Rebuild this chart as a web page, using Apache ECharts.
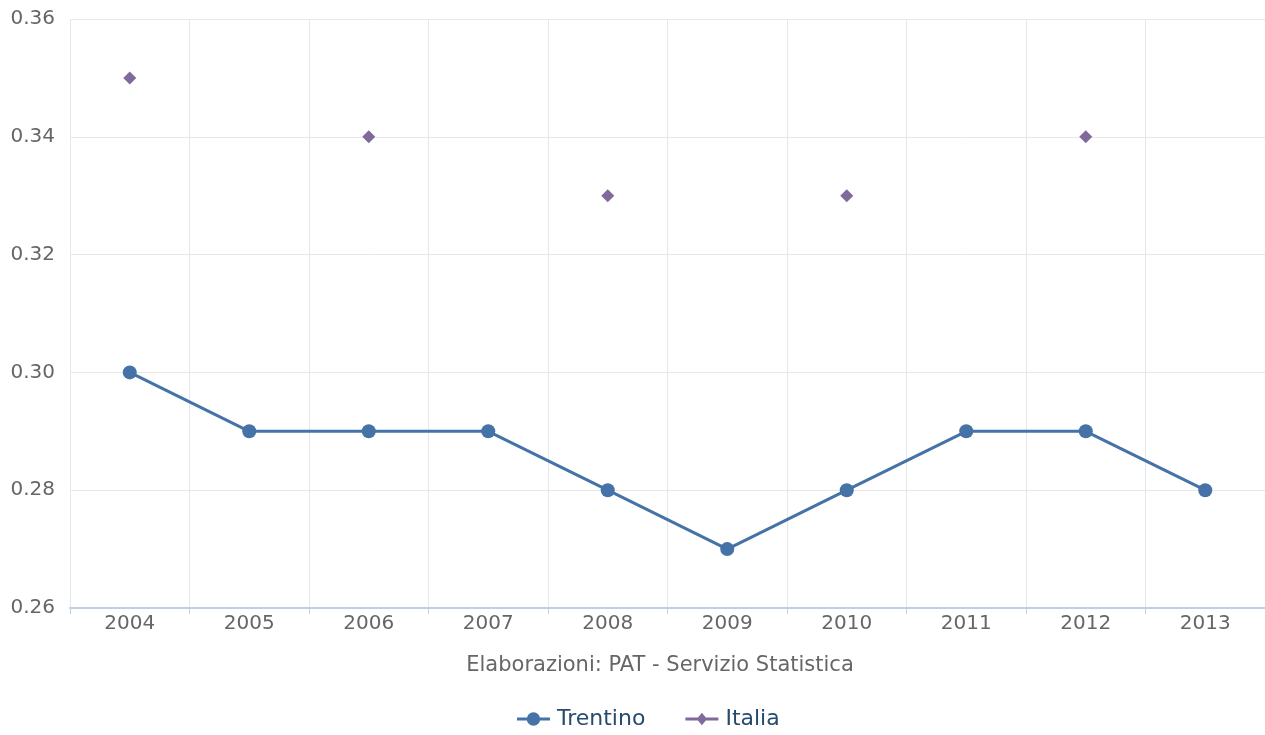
<!DOCTYPE html>
<html><head><meta charset="utf-8">
<script src="https://cdn.jsdelivr.net/npm/echarts@6/dist/echarts.min.js"></script>
<style>html,body{margin:0;padding:0;background:#fff}#c{width:1265px;height:735px}</style>
</head><body><div id="c"></div>
<script>
var years = ['2004','2005','2006','2007','2008','2009','2010','2011','2012','2013'];
var trentino = [0.30,0.29,0.29,0.29,0.28,0.27,0.28,0.29,0.29,0.28];
var italia = [0.35,null,0.34,null,0.33,null,0.33,null,0.34,null];
var yTicks = [0.26,0.28,0.30,0.32,0.34,0.36];
var FONT = '"DejaVu Sans", Verdana, sans-serif';
var ICON_CIRCLE = 'path://M0,5.5h10v3h-10z M22,5.5h10v3h-10z M16,0.5a6.5,6.5 0 1,1 -0.01,0z';
var ICON_DIAMOND = 'path://M0,5.5h32v3h-32z M16,1L21,7L16,13L11,7z';
var chart = echarts.init(document.getElementById('c'), null, {renderer:'canvas'});
chart.setOption({
  animation:false,
  textStyle:{fontFamily:FONT},
  grid:{left:70,right:0,top:19,bottom:127,containLabel:false},
  legend:{
    bottom:0,left:512,itemGap:40,itemWidth:33,itemHeight:14,
    textStyle:{fontFamily:FONT,fontSize:22,color:'#274b6d',padding:[0,0,0,2]},
    data:[{name:'Trentino',icon:ICON_CIRCLE},{name:'Italia',icon:ICON_DIAMOND}]
  },
  xAxis:{
    type:'category',data:years,boundaryGap:true,
    name:'Elaborazioni: PAT - Servizio Statistica',nameLocation:'middle',nameGap:47,
    nameTextStyle:{fontFamily:FONT,fontSize:21,color:'#666',padding:[0,15,0,0]},
    axisLine:{lineStyle:{color:'#C0D0E0',width:2}},
    axisTick:{show:true,length:6,lineStyle:{color:'#C0D0E0'}},
    axisLabel:{fontFamily:FONT,fontSize:20,color:'#666',margin:6},
    splitLine:{show:true,lineStyle:{color:'#E3E8EE',width:1}}
  },
  yAxis:{
    type:'value',min:0.26,max:0.36,interval:0.02,
    axisLine:{show:false},axisTick:{show:false},
    axisLabel:{fontFamily:FONT,fontSize:20,color:'#666',margin:15,
      formatter:function(v){return v.toFixed(2);}},
    splitLine:{lineStyle:{color:'#E8E8E8',width:1}}
  },
  series:[
    {name:'Trentino',type:'line',data:trentino,symbol:'circle',symbolSize:14,
     lineStyle:{color:'#4572A7',width:3},itemStyle:{color:'#4572A7'}},
    {name:'Italia',type:'line',data:italia,symbol:'diamond',symbolSize:13,
     lineStyle:{width:3,color:'#80699B',opacity:0},itemStyle:{color:'#80699B'},connectNulls:false}
  ]
});
</script></body></html>
